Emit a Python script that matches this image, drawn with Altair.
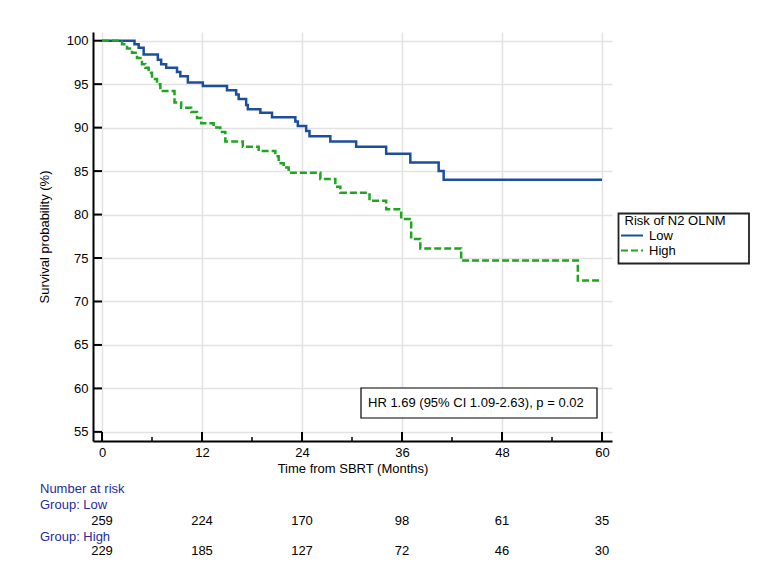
import altair as alt
import pandas as pd

FONT = "Liberation Sans"
BLUE = "#1b4f9e"
GREEN = "#1fa51f"
LABEL_BLUE = "#2a2a9c"

# Kaplan-Meier step points (months, survival %)
low_t = [0, 3.9, 4.4, 5.0, 6.7, 7.1, 7.7, 9.0, 9.4, 10.3, 12.1, 15.0, 16.1, 16.4,
         17.3, 17.5, 19.0, 20.4, 23.2, 23.5, 24.5, 24.9, 27.4, 30.5, 34.1, 37.0,
         40.4, 41.0, 60]
low_s = [100, 99.6, 99.2, 98.4, 97.8, 97.3, 96.9, 96.4, 95.9, 95.2, 94.8, 94.3, 93.8, 93.3,
         92.6, 92.1, 91.7, 91.2, 90.7, 90.2, 89.6, 89.0, 88.4, 87.8, 87.0, 86.0,
         85.0, 84.0, 84.0]

high_t = [0, 2.4, 3.0, 3.6, 4.2, 4.8, 5.2, 5.6, 6.0, 6.6, 7.0, 8.7, 9.5, 10.7, 11.4,
          11.9, 13.4, 14.2, 14.8, 16.9, 18.8, 20.8, 21.2, 21.8, 22.4, 26.2, 28.0,
          28.6, 32.1, 34.1, 35.9, 37.1, 38.2, 43.1, 57.1, 60]
high_s = [100, 99.6, 99.1, 98.6, 98.0, 97.3, 96.9, 96.3, 95.6, 95.0, 94.2, 92.9, 92.3, 91.8, 91.1,
          90.5, 90.0, 89.5, 88.4, 87.8, 87.3, 86.7, 85.9, 85.4, 84.8, 84.1, 83.2,
          82.5, 81.6, 80.6, 79.5, 77.2, 76.1, 74.7, 72.4, 72.4]

groups = ["Low", "High"]
group_colors = [BLUE, GREEN]
group_dashes = [[1, 0], [7, 3]]

# Number-at-risk table
risk_months = [0, 12, 24, 36, 48, 60]
risk_low = [259, 224, 170, 98, 61, 35]
risk_high = [229, 185, 127, 72, 46, 30]

x_major = [0, 12, 24, 36, 48, 60]
x_minor = [6, 18, 30, 42, 54]
y_major = [55, 60, 65, 70, 75, 80, 85, 90, 95, 100]

hr_text = "HR 1.69 (95% CI 1.09-2.63), p = 0.02"
legend_title = "Risk of N2 OLNM"

W, H = 519, 409

curves = pd.concat([
    pd.DataFrame({"month": low_t, "surv": low_s, "group": "Low"}),
    pd.DataFrame({"month": high_t, "surv": high_s, "group": "High"}),
])

x_scale = alt.Scale(domain=[-1.08, 61.2], nice=False, zero=False)
y_scale = alt.Scale(domain=[53.95, 101.0], nice=False, zero=False)

x_axis = alt.Axis(values=x_major, title="Time from SBRT (Months)", titleY=27,
                  titleBaseline="middle", labelPadding=5, format="d")
y_axis = alt.Axis(values=y_major, title="Survival probability (%)", titleX=-49,
                  titleY=H / 2, titleAngle=-90, titleAlign="center",
                  titleBaseline="middle", labelPadding=5, format="d")

lines = alt.Chart(curves).mark_line(interpolate="step-after", strokeWidth=2.5).encode(
    x=alt.X("month:Q", scale=x_scale, axis=x_axis),
    y=alt.Y("surv:Q", scale=y_scale, axis=y_axis),
    color=alt.Color("group:N", scale=alt.Scale(domain=groups, range=group_colors), legend=None),
    strokeDash=alt.StrokeDash("group:N", scale=alt.Scale(domain=groups, range=group_dashes),
                              legend=None),
)

# inward tick marks
xt_major = alt.Chart(pd.DataFrame({"month": x_major})).mark_rule(color="black", strokeWidth=2).encode(
    x=alt.X("month:Q", scale=x_scale, axis=x_axis), y=alt.value(H), y2=alt.value(H - 9))
xt_minor = alt.Chart(pd.DataFrame({"month": x_minor})).mark_rule(color="black", strokeWidth=1.5).encode(
    x=alt.X("month:Q", scale=x_scale, axis=x_axis), y=alt.value(H), y2=alt.value(H - 4))
yt_major = alt.Chart(pd.DataFrame({"surv": y_major})).mark_rule(color="black", strokeWidth=2).encode(
    y=alt.Y("surv:Q", scale=y_scale, axis=y_axis), x=alt.value(0), x2=alt.value(9))

# hazard ratio box
hr_box = alt.Chart(pd.DataFrame({"label": [hr_text]})).mark_rect(
    fill="white", stroke="black", strokeWidth=1.2).encode(
    x=alt.value(268), x2=alt.value(504), y=alt.value(356), y2=alt.value(386))
hr_label = alt.Chart(pd.DataFrame({"label": [hr_text]})).mark_text(
    align="left", baseline="middle", font=FONT, fontSize=13, color="black").encode(
    x=alt.value(275), y=alt.value(371), text="label:N")

# legend: frame, title and one entry per group
legend_box = alt.Chart(pd.DataFrame({"label": [legend_title]})).mark_rect(
    fill="white", stroke="#222222", strokeWidth=1.8).encode(
    x=alt.value(525.5), x2=alt.value(656), y=alt.value(181.5), y2=alt.value(231.5))
legend_head = alt.Chart(pd.DataFrame({"label": [legend_title]})).mark_text(
    align="left", baseline="middle", font=FONT, fontSize=13, color="black").encode(
    x=alt.value(531.5), y=alt.value(188.5), text="label:N")

legend_layers = []
for i, (g, col, dash) in enumerate(zip(groups, group_colors, group_dashes)):
    ly = 203.5 + 15 * i
    entry = pd.DataFrame({"label": [g]})
    legend_layers.append(alt.Chart(entry).mark_rule(
        color=col, strokeWidth=2, strokeDash=dash).encode(
        x=alt.value(528), x2=alt.value(550), y=alt.value(ly)))
    legend_layers.append(alt.Chart(entry).mark_text(
        align="left", baseline="middle", font=FONT, fontSize=13, color="black").encode(
        x=alt.value(556), y=alt.value(ly), text="label:N"))

# number at risk table under the axis
head_layers = []
for label, py in [("Number at risk", 457), ("Group: Low", 473), ("Group: High", 505)]:
    head_layers.append(alt.Chart(pd.DataFrame({"label": [label]})).mark_text(
        align="left", baseline="middle", font=FONT, fontSize=13, color=LABEL_BLUE).encode(
        x=alt.value(-53), y=alt.value(py), text="label:N"))

risk_layers = []
for counts, py in [(risk_low, 489), (risk_high, 519)]:
    risk_layers.append(alt.Chart(pd.DataFrame({"month": risk_months, "n": counts})).mark_text(
        align="center", baseline="middle", font=FONT, fontSize=13, color="black").encode(
        x=alt.X("month:Q", scale=x_scale, axis=x_axis), y=alt.value(py), text="n:Q"))

chart = alt.layer(
    lines, xt_major, xt_minor, yt_major, hr_box, hr_label, legend_box, legend_head,
    *legend_layers, *head_layers, *risk_layers
).properties(
    width=W, height=H,
    autosize=alt.AutoSizeParams(type="none"),
    padding={"left": 93, "top": 32, "right": 153, "bottom": 141},
    background="white",
).configure_view(stroke=None).configure_axis(
    labelFont=FONT, labelFontSize=13, labelColor="black",
    titleFont=FONT, titleFontSize=13, titleFontWeight="normal", titleColor="black",
    domainColor="black", domainWidth=2, ticks=False, tickSize=0,
    grid=True, gridColor="#e2e2e2", gridWidth=1.5,
)

chart.save("out.html", embed_options={"renderer": "svg", "actions": False})
